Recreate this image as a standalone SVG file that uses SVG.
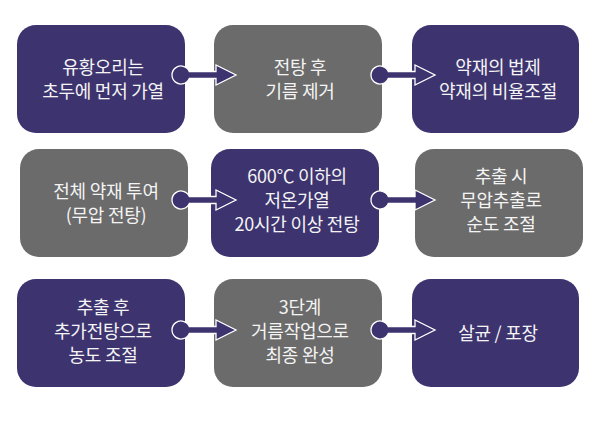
<svg xmlns="http://www.w3.org/2000/svg" xmlns:xlink="http://www.w3.org/1999/xlink" width="600" height="425" viewBox="0 0 600 425">
<style>
.p{fill:#3d336f}
.g{fill:#6b6b6b}
text{font-family:"Noto Sans CJK KR","Noto Sans",sans-serif;font-size:18px;fill:#f4f4f4;text-anchor:middle;letter-spacing:-0.25px}
.c{fill:#3d336f;stroke:#ffffff;stroke-width:1.3}
</style>
<defs>
<path id="conn" d="M8.3,-3.5 L35,-3.5 L35,-10 L55,0 L35,10 L35,3.5 L8.3,3.5 A9,9 0 1 1 8.3,-3.5 Z"/>
</defs>
<rect width="600" height="425" fill="#ffffff"/>
<g id="n1"><rect class="p" x="17" y="25" width="168" height="108" rx="19"/><text x="103" y="74">유황오리는</text><text x="103" y="98">초두에 먼저 가열</text></g>
<g id="n2"><rect class="g" x="214" y="25" width="168" height="108" rx="19"/><text x="300" y="74">전탕 후</text><text x="300" y="98">기름 제거</text></g>
<g id="n3"><rect class="p" x="412" y="25" width="167" height="108" rx="19"/><text x="498" y="74">약재의 법제</text><text x="498" y="98">약재의 비율조절</text></g>
<g id="n4"><rect class="g" x="20" y="149" width="168" height="108" rx="19"/><text x="106" y="198">전체 약재 투여</text><text x="106" y="222">(무압 전탕)</text></g>
<g id="n5"><rect class="p" x="211" y="149" width="168" height="108" rx="19"/><text x="297" y="183">600℃ 이하의</text><text x="297" y="207">저온가열</text><text x="297" y="231">20시간 이상 전탕</text></g>
<g id="n6"><rect class="g" x="415" y="149" width="168" height="108" rx="19"/><text x="501" y="183">추출 시</text><text x="501" y="207">무압추출로</text><text x="501" y="231">순도 조절</text></g>
<g id="n7"><rect class="p" x="17" y="279" width="168" height="108" rx="19"/><text x="103" y="314">추출 후</text><text x="103" y="338">추가전탕으로</text><text x="103" y="362">농도 조절</text></g>
<g id="n8"><rect class="g" x="214" y="279" width="168" height="108" rx="19"/><text x="300" y="314">3단계</text><text x="300" y="338">거름작업으로</text><text x="300" y="362">최종 완성</text></g>
<g id="n9"><rect class="p" x="412" y="279" width="167" height="108" rx="19"/><text x="498" y="340">살균 / 포장</text></g>
<g id="connectors">
<use xlink:href="#conn" class="c" x="181" y="75"/>
<use xlink:href="#conn" class="c" x="380" y="75"/>
<use xlink:href="#conn" class="c" x="181" y="200"/>
<use xlink:href="#conn" class="c" x="380" y="200"/>
<use xlink:href="#conn" class="c" x="181" y="330"/>
<use xlink:href="#conn" class="c" x="380" y="330"/>
</g>
</svg>
